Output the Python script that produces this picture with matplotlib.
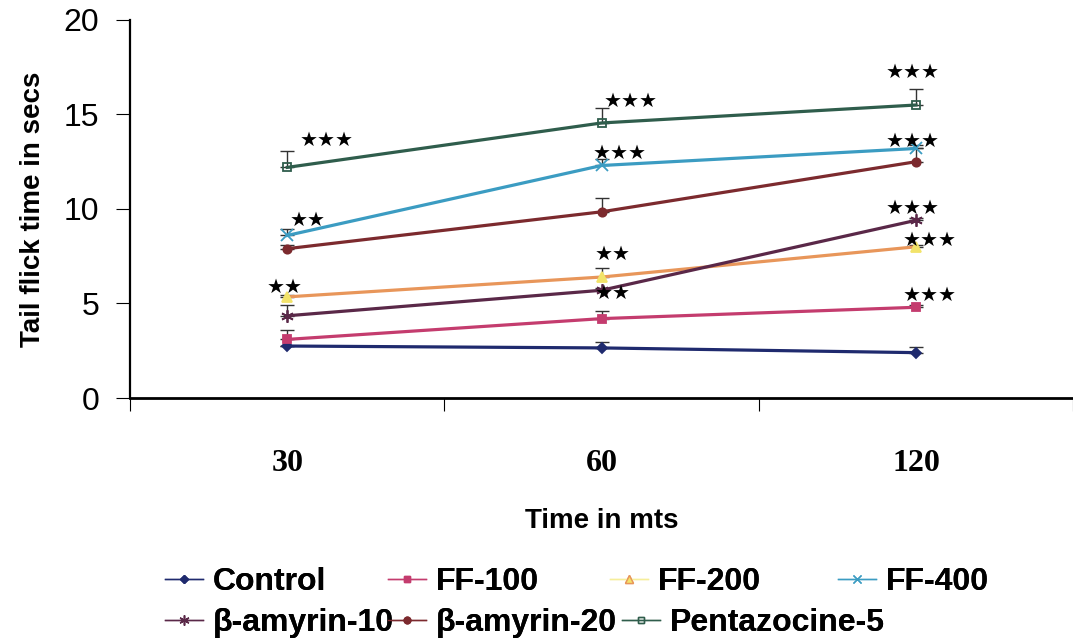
import matplotlib.pyplot as plt
import numpy as np
from matplotlib.lines import Line2D

# Tail flick latency (s) at each observation time, mean and upper SEM
times = ["30", "60", "120"]
groups = ["Control", "FF-100", "FF-200", "FF-400",
          "β-amyrin-10", "β-amyrin-20", "Pentazocine-5"]

control = [2.75, 2.65, 2.4]
ff100 = [3.1, 4.2, 4.8]
ff200 = [5.35, 6.4, 8.0]
ff400 = [8.6, 12.3, 13.2]
bamy10 = [4.35, 5.7, 9.4]
bamy20 = [7.9, 9.85, 12.5]
pentazocine = [12.2, 14.55, 15.5]

control_err = [0.0, 0.3, 0.3]
ff100_err = [0.5, 0.4, 0.1]
ff200_err = [0.1, 0.5, 0.1]
ff400_err = [0.35, 0.35, 0.2]
bamy10_err = [0.55, 0.1, 0.1]
bamy20_err = [0.2, 0.75, 0.7]
pentazocine_err = [0.85, 0.8, 0.85]

# significance marks: (x in category units, y in secs, count)
star_x = [0.627, 1.591, 2.488, 0.566, 1.559, 2.488,
          0.493, 1.534, 2.542, 1.534, 2.488, 2.542]
star_y = [13.65, 15.71, 17.2, 9.42, 12.96, 13.6,
          5.87, 7.62, 8.36, 5.56, 10.05, 5.45]
star_n = [3, 3, 3, 2, 3, 3, 2, 2, 3, 2, 3, 3]

series = {
    "Control": (control, control_err),
    "FF-100": (ff100, ff100_err),
    "FF-200": (ff200, ff200_err),
    "FF-400": (ff400, ff400_err),
    "β-amyrin-10": (bamy10, bamy10_err),
    "β-amyrin-20": (bamy20, bamy20_err),
    "Pentazocine-5": (pentazocine, pentazocine_err),
}

styles = {
    "Control": dict(color="#1f2a6e", marker="D", ms=5, mfc="#1f2a6e"),
    "FF-100": dict(color="#c43c6e", marker="s", ms=6, mfc="#c43c6e"),
    "FF-200": dict(color="#e8965a", marker="^", ms=7, mfc="#f2e36a", mec="#f2e36a"),
    "FF-400": dict(color="#3b9cc2", marker="x", ms=8, mfc="#3b9cc2"),
    "β-amyrin-10": dict(color="#5a2848", marker=(6, 2, 0), ms=9, mfc="#5a2848"),
    "β-amyrin-20": dict(color="#7c2a2e", marker="o", ms=6, mfc="#7c2a2e"),
    "Pentazocine-5": dict(color="#2f5d4c", marker="s", ms=6, mfc="none"),
}

fig = plt.figure(figsize=(10.73, 6.43), dpi=100)
ax = fig.add_axes([0.1212, 0.381, 0.879, 0.588])

x = np.arange(len(times)) + 0.5
for name in groups:
    vals, err = series[name]
    st = styles[name]
    ax.errorbar(x, vals, yerr=[np.zeros(len(err)), err], fmt="none",
                ecolor="#333333", elinewidth=1.0, capsize=5, capthick=1.0, zorder=2)
    ax.plot(x, vals, color=st["color"], lw=2.3, marker=st["marker"], ms=st["ms"],
            mfc=st["mfc"], mec=st.get("mec", st["color"]), mew=1.3, label=name, zorder=3)

for sx, sy, n in zip(star_x, star_y, star_n):
    ax.text(sx, sy, "★" * n, ha="center", va="center", fontsize=14.5,
            family="DejaVu Sans", color="black", zorder=4)

ax.set_xlim(0, 3)
ax.set_ylim(0, 20)
ax.set_yticks([0, 5, 10, 15, 20])
ax.tick_params(axis="y", direction="out", length=10, width=0.8, pad=12,
               labelsize=23)
for lab in ax.get_yticklabels():
    lab.set_family("Liberation Sans")

# category boundaries carry the tick marks, labels sit at category centres
ax.set_xticks([0, 1, 2, 3])
ax.set_xticklabels([])
ax.tick_params(axis="x", which="major", direction="out", length=9, width=0.8)
ax.set_xticks(x, minor=True)
ax.set_xticklabels(times, minor=True, fontsize=23, family="Liberation Serif",
                   fontweight="bold")
ax.tick_params(axis="x", which="minor", length=0, pad=37)

ax.spines["top"].set_visible(False)
ax.spines["right"].set_visible(False)
ax.spines["left"].set_linewidth(1.6)
ax.spines["bottom"].set_linewidth(2.0)

ax.set_ylabel("Tail flick time in secs", fontsize=20, fontweight="bold",
              family="Liberation Sans")
ax.yaxis.set_label_coords(-0.089, 0.5)
ax.set_xlabel("Time in mts", fontsize=20, fontweight="bold",
              family="Liberation Sans")
ax.xaxis.set_label_coords(0.5, -0.29)

legend_font = dict(family="Liberation Sans", weight="bold", size=23)
# left edge (px) and row centre (px) of each legend entry
legend_left = [165, 388, 610, 838, 165, 388, 622]
legend_row = [582, 582, 582, 582, 623, 623, 623]


def legend_handle(name):
    st = styles[name]
    line_color = "#f6ee9a" if name == "FF-200" else st["color"]
    mec = "#e8965a" if name == "FF-200" else st.get("mec", st["color"])
    return Line2D([], [], color=line_color, lw=1.0, marker=st["marker"],
                  ms=st["ms"] * 0.8, mfc=st["mfc"], mec=mec)


for name, lx, ly in zip(groups, legend_left, legend_row):
    leg = fig.legend([legend_handle(name)], [name], loc="center left",
                     bbox_to_anchor=(lx / 1073, 1 - ly / 643), frameon=False,
                     prop=legend_font, handlelength=1.2, handletextpad=0.3,
                     borderpad=0, borderaxespad=0)
    fig.add_artist(leg)

fig.savefig("out.png", dpi=100)
